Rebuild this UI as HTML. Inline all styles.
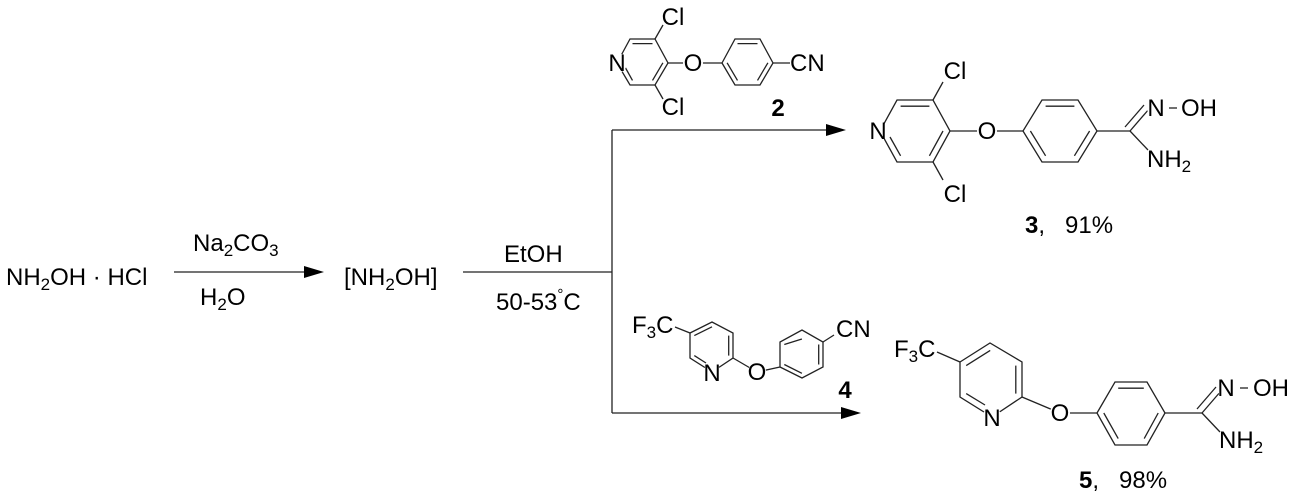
<!DOCTYPE html>
<html><head><meta charset="utf-8"><style>
html,body{margin:0;padding:0;background:#fff;}
svg{display:block;}
text{font-family:"Liberation Sans",Arial,sans-serif;font-size:24px;fill:#000;white-space:pre;}
.m{text-anchor:middle;}
.b{font-weight:bold;}
line,polyline{stroke:#222;stroke-width:1.3;fill:none;}
circle{fill:#fff;stroke:none;}
</style></head><body>
<svg width="1297" height="501" viewBox="0 0 1297 501" xmlns="http://www.w3.org/2000/svg">
<!-- main reagents -->
<text x="6" y="285">NH<tspan font-size="17" dy="5">2</tspan><tspan dy="-5">OH · HCl</tspan></text>
<line x1="174" y1="272" x2="310" y2="272"/>
<polygon points="324,272 304,266 304,278" fill="#000"/>
<text x="193" y="251">Na<tspan font-size="17" dy="5">2</tspan><tspan dy="-5">CO</tspan><tspan font-size="17" dy="5">3</tspan></text>
<text x="200" y="305">H<tspan font-size="17" dy="5">2</tspan><tspan dy="-5">O</tspan></text>
<text x="344" y="285">[NH<tspan font-size="17" dy="5">2</tspan><tspan dy="-5">OH]</tspan></text>
<line x1="463" y1="272" x2="612" y2="272"/>
<text x="504" y="262">EtOH</text>
<text x="496" y="310">50-53<tspan font-size="15" dy="-11">°</tspan><tspan dy="11">C</tspan></text>
<line x1="612" y1="130" x2="612" y2="413"/>
<line x1="612" y1="130" x2="830" y2="130"/>
<polygon points="846,130 826,124 826,136" fill="#000"/>
<line x1="612" y1="413" x2="845" y2="413"/>
<polygon points="861,413 841,407 841,419" fill="#000"/>

<!-- compound 2 -->
<polyline points="617,63 630,39 655,39 668,63 655,85 630,85 617,63"/>
<line x1="632.5" y1="43.6" x2="652.5" y2="43.6"/>
<line x1="662.9" y1="62.8" x2="652.5" y2="80.4"/>
<line x1="632.5" y1="80.4" x2="625" y2="67"/>
<line x1="655" y1="39" x2="663" y2="25"/>
<line x1="655" y1="85" x2="663" y2="99"/>
<line x1="668" y1="63" x2="722" y2="63"/>
<polyline points="722,63 735,39 760,39 773,63 760,85 735,85 722,63"/>
<line x1="737.5" y1="43.6" x2="757.5" y2="43.6"/>
<line x1="767.9" y1="62.8" x2="757.5" y2="80.4"/>
<line x1="737.5" y1="80.4" x2="727.1" y2="62.8"/>
<line x1="773" y1="63" x2="790" y2="63"/>
<circle cx="617" cy="63" r="10"/><text class="m" x="617" y="71">N</text>
<circle cx="672" cy="17" r="10"/><text class="m" x="673" y="25">Cl</text>
<circle cx="672" cy="107" r="10"/><text class="m" x="673" y="115">Cl</text>
<circle cx="693" cy="63" r="10"/><text class="m" x="693" y="71">O</text>
<text x="790" y="71">CN</text>
<text class="b m" x="778" y="116">2</text>

<!-- compound 3 -->
<polyline points="880,131 897,100 933,100 950,131 933,162 897,162 880,131"/>
<line x1="900.6" y1="106.2" x2="929.4" y2="106.2"/>
<line x1="943" y1="131" x2="929.4" y2="155.8"/>
<line x1="900.6" y1="155.8" x2="890" y2="137"/>
<line x1="933" y1="100" x2="943" y2="82"/>
<line x1="933" y1="162" x2="943" y2="180"/>
<line x1="950" y1="131" x2="1023" y2="131"/>
<polyline points="1023,131 1042,100 1078,100 1097,131 1078,162 1042,162 1023,131"/>
<line x1="1045.6" y1="106.2" x2="1074.4" y2="106.2"/>
<line x1="1089.6" y1="131" x2="1074.4" y2="155.8"/>
<line x1="1045.6" y1="155.8" x2="1030.4" y2="131"/>
<line x1="1097" y1="131" x2="1130" y2="131"/>
<line x1="1130" y1="131" x2="1149" y2="109"/>
<line x1="1125" y1="127" x2="1144" y2="105"/>
<line x1="1130" y1="131" x2="1148" y2="150"/>
<circle cx="878" cy="131" r="10"/><text class="m" x="878" y="139">N</text>
<circle cx="953" cy="71" r="10"/><text class="m" x="955" y="79">Cl</text>
<circle cx="953" cy="194" r="10"/><text class="m" x="955" y="202">Cl</text>
<circle cx="987" cy="131" r="10"/><text class="m" x="987" y="139">O</text>
<circle cx="1156" cy="108" r="9"/><text class="m" x="1156" y="116">N</text>
<line x1="1169" y1="108" x2="1177" y2="108"/>
<text x="1181" y="116">OH</text>
<circle cx="1158" cy="158" r="9"/><text x="1147" y="167">NH<tspan font-size="17" dy="5">2</tspan></text>
<text x="1025" y="233"><tspan class="b">3</tspan>,   91%</text>

<!-- compound 4 -->
<line x1="675" y1="327" x2="690" y2="333"/>
<polyline points="690,333 712,322 733,333 733,358 712,372 690,358 690,333"/>
<line x1="694.3" y1="335.6" x2="712" y2="326.8"/>
<line x1="728.7" y1="335.6" x2="728.7" y2="355.6"/>
<line x1="694.3" y1="355.6" x2="706" y2="363"/>
<line x1="733" y1="358" x2="757" y2="372"/>
<line x1="757" y1="372" x2="780" y2="367"/>
<polyline points="780,367 780,342 802,330 823,342 823,367 802,378 780,367"/>
<line x1="784.3" y1="344.5" x2="801.9" y2="339"/>
<line x1="818.7" y1="344.5" x2="818.7" y2="364.5"/>
<line x1="801.9" y1="373.3" x2="784.3" y2="364.5"/>
<line x1="823" y1="342" x2="834" y2="335"/>
<text x="632" y="333">F<tspan font-size="17" dy="5">3</tspan><tspan dy="-5">C</tspan></text>
<circle cx="712" cy="373" r="9"/><text class="m" x="712" y="381">N</text>
<circle cx="757" cy="372" r="9"/><text class="m" x="757" y="380">O</text>
<text x="836" y="337">CN</text>
<text class="b m" x="845" y="398">4</text>

<!-- compound 5 -->
<line x1="937" y1="352" x2="960" y2="362"/>
<polyline points="960,362 990,343 1022,362 1022,397 992,417 960,397 960,362"/>
<line x1="966.2" y1="365.6" x2="990.2" y2="350.4"/>
<line x1="1015.8" y1="365.6" x2="1015.8" y2="393.6"/>
<line x1="966.2" y1="393.6" x2="985" y2="405"/>
<line x1="1022" y1="397" x2="1060" y2="413"/>
<line x1="1060" y1="413" x2="1097" y2="413"/>
<polyline points="1097,413 1115,382 1147,382 1165,413 1147,445 1115,445 1097,413"/>
<line x1="1118.2" y1="388.2" x2="1143.8" y2="388.2"/>
<line x1="1158.2" y1="413" x2="1144.2" y2="438.6"/>
<line x1="1118.2" y1="438.6" x2="1103.8" y2="413"/>
<line x1="1165" y1="413" x2="1202" y2="413"/>
<line x1="1202" y1="413" x2="1221" y2="391"/>
<line x1="1197" y1="409" x2="1216" y2="387"/>
<line x1="1202" y1="413" x2="1220" y2="432"/>
<text x="894" y="357">F<tspan font-size="17" dy="5">3</tspan><tspan dy="-5">C</tspan></text>
<circle cx="992" cy="418" r="10"/><text class="m" x="992" y="426">N</text>
<circle cx="1060" cy="413" r="10"/><text class="m" x="1060" y="421">O</text>
<circle cx="1226" cy="388" r="9"/><text class="m" x="1226" y="396">N</text>
<line x1="1240" y1="388" x2="1248" y2="388"/>
<text x="1253" y="396">OH</text>
<circle cx="1230" cy="439" r="9"/><text x="1219" y="448">NH<tspan font-size="17" dy="5">2</tspan></text>
<text x="1079" y="488"><tspan class="b">5</tspan>,   98%</text>
</svg>
</body></html>
